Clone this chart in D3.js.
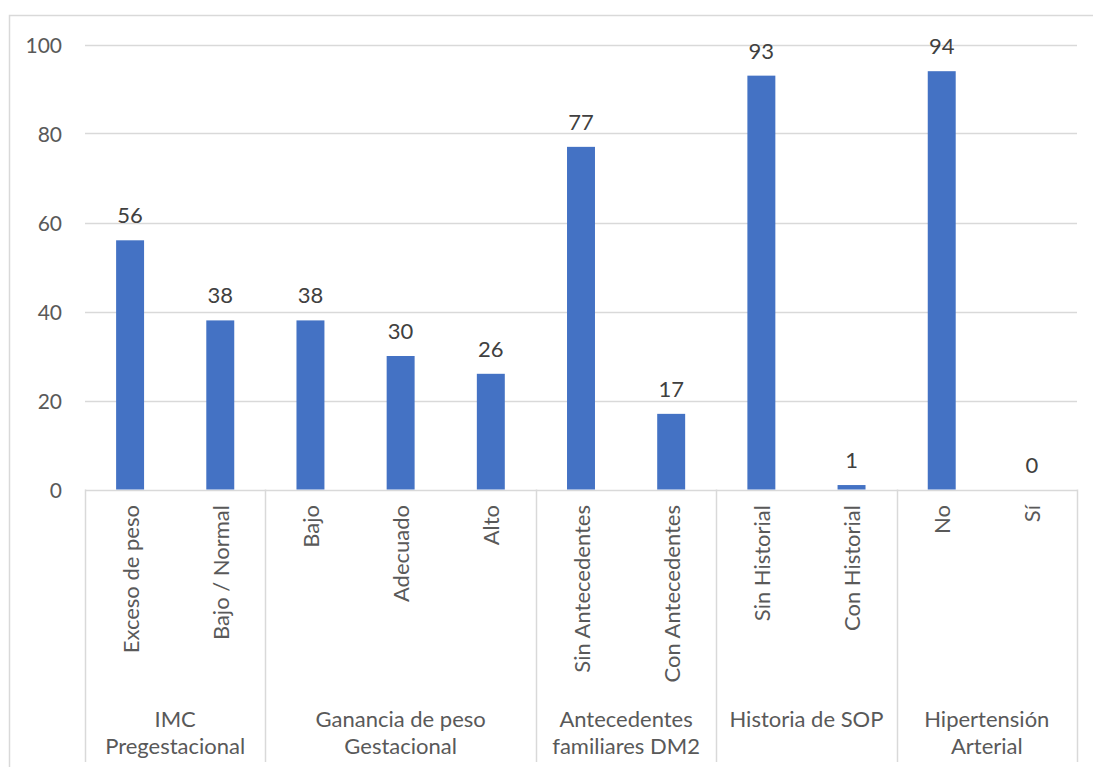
<!DOCTYPE html>
<html>
<head>
<meta charset="utf-8">
<script src="https://cdn.jsdelivr.net/npm/d3@7"></script>
<style>
  html, body { margin: 0; padding: 0; background: #fff; }
  svg { display: block; font-family: Lato, "Liberation Sans", sans-serif; }
</style>
</head>
<body>
<svg id="chart" width="1093" height="767"></svg>
<script>
// Sub-categories along the x axis and the bar value for each
const categories = ["Exceso de peso", "Bajo / Normal", "Bajo", "Adecuado", "Alto",
  "Sin Antecedentes", "Con Antecedentes", "Sin Historial", "Con Historial", "No", "Sí"];
const values = [56, 38, 38, 30, 26, 77, 17, 93, 1, 94, 0];

// Outer grouping of the sub-categories (label lines and how many bars each spans)
const groupLabels = [
  ["IMC", "Pregestacional"],
  ["Ganancia de peso", "Gestacional"],
  ["Antecedentes", "familiares DM2"],
  ["Historia de SOP"],
  ["Hipertensión", "Arterial"]
];
const groupSizes = [2, 3, 2, 2, 2];

const yTicks = [0, 20, 40, 60, 80, 100];

const svg = d3.select("#chart");
const plotLeft = 85, plotRight = 1077, plotTop = 44.5, plotBottom = 489.5;
const axisBottom = 762;

const x = d3.scaleBand()
  .domain(categories)
  .range([plotLeft, plotRight])
  .paddingInner(0.69)
  .paddingOuter(0.345);
const y = d3.scaleLinear().domain([0, 100]).range([plotBottom, plotTop]);

// Chart frame
svg.append("rect")
  .attr("x", 9.5).attr("y", 15.5)
  .attr("width", 1200).attr("height", 900)
  .attr("fill", "none").attr("stroke", "#d9d9d9").attr("stroke-width", 1.5);

// Horizontal gridlines
svg.append("g")
  .selectAll("line")
  .data(yTicks)
  .join("line")
  .attr("x1", plotLeft).attr("x2", plotRight)
  .attr("y1", d => Math.round(y(d)) + 0.5).attr("y2", d => Math.round(y(d)) + 0.5)
  .attr("stroke", "#d9d9d9").attr("stroke-width", 1.3);

// Y axis tick labels
svg.append("g")
  .selectAll("text")
  .data(yTicks)
  .join("text")
  .attr("x", 62).attr("y", d => y(d))
  .attr("text-anchor", "end")
  .attr("dominant-baseline", "central")
  .attr("fill", "#595959")
  .attr("font-size", 21)
  .text(d => d);

// Bars
svg.append("g")
  .selectAll("rect")
  .data(values)
  .join("rect")
  .attr("x", (d, i) => x(categories[i]))
  .attr("width", x.bandwidth())
  .attr("y", d => y(d))
  .attr("height", d => y(0) - y(d))
  .attr("fill", "#4472c4");

// Value labels above bars
svg.append("g")
  .selectAll("text")
  .data(values)
  .join("text")
  .attr("x", (d, i) => x(categories[i]) + x.bandwidth() / 2)
  .attr("y", d => y(d) - 17)
  .attr("text-anchor", "middle")
  .attr("fill", "#404040")
  .attr("font-size", 22)
  .text(d => d);

// Rotated sub-category labels
svg.append("g")
  .selectAll("text")
  .data(categories)
  .join("text")
  .attr("transform", d => `translate(${x(d) + x.bandwidth() / 2},505) rotate(-90)`)
  .attr("text-anchor", "end")
  .attr("dominant-baseline", "central")
  .attr("fill", "#595959")
  .attr("font-size", 22)
  .text(d => d);

// Group boundaries and group labels
const slot = x.step();
let start = 0;
const bounds = [plotLeft];
groupSizes.forEach(n => {
  start += n;
  const c = categories[start - 1];
  bounds.push(x(c) + x.bandwidth() + slot * x.paddingInner() / 2);
});

svg.append("g")
  .selectAll("line")
  .data(bounds)
  .join("line")
  .attr("x1", d => Math.round(d) + 0.5).attr("x2", d => Math.round(d) + 0.5)
  .attr("y1", plotBottom).attr("y2", axisBottom)
  .attr("stroke", "#d9d9d9").attr("stroke-width", 1.5);

const gl = svg.append("g");
groupLabels.forEach((lines, gi) => {
  const cx = (bounds[gi] + bounds[gi + 1]) / 2;
  lines.forEach((t, li) => {
    gl.append("text")
      .attr("x", cx).attr("y", 718 + li * 27)
      .attr("text-anchor", "middle")
      .attr("dominant-baseline", "central")
      .attr("fill", "#595959")
      .attr("font-size", 22)
      .text(t);
  });
});
</script>
</body>
</html>
